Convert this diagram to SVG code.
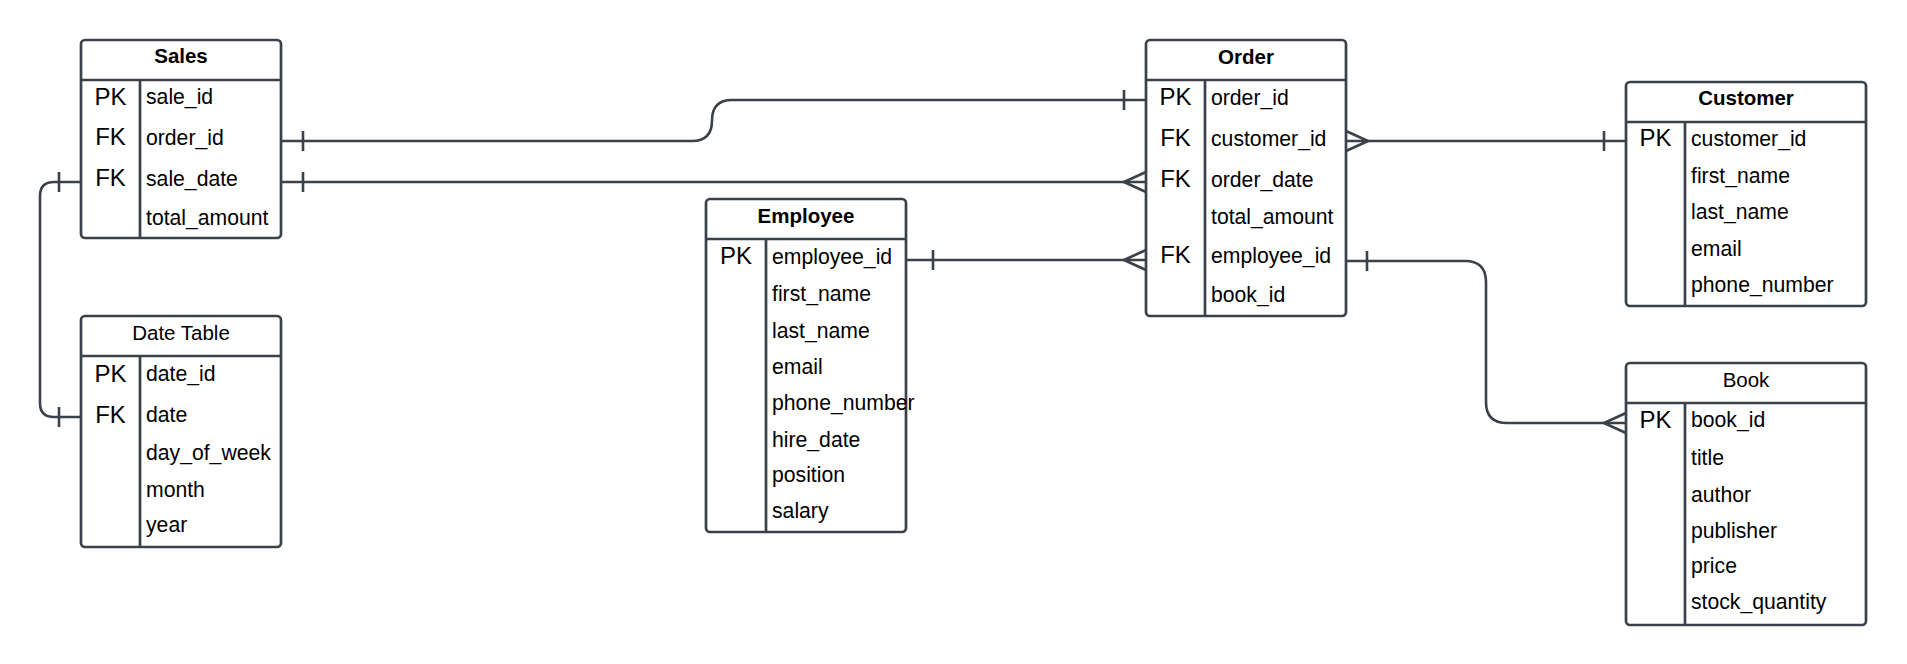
<svg xmlns="http://www.w3.org/2000/svg" width="1907" height="664" viewBox="0 0 1907 664">
<style>
.box{fill:#fff;stroke:#3a414a;stroke-width:2.7}
.ln{fill:none;stroke:#3a414a;stroke-width:2.7}
.cn{fill:none;stroke:#3a414a;stroke-width:2.6;stroke-linejoin:round}
.h{font-family:"Liberation Sans",Arial,sans-serif;font-size:20.5px;font-weight:bold;fill:#000;text-anchor:middle}
.hr{font-family:"Liberation Sans",Arial,sans-serif;font-size:20.5px;fill:#000;text-anchor:middle}
.k{font-family:"Liberation Sans",Arial,sans-serif;font-size:24px;fill:#000;text-anchor:middle}
.f{font-family:"Liberation Sans",Arial,sans-serif;font-size:21.2px;fill:#000}
</style>
<rect width="1907" height="664" fill="#fff"/>
<g id="connectors">
<path class="cn" d="M281 141 H692 Q712 141 712 120.5 Q712 100 732 100 H1146"/>
<path class="cn" d="M303 131 V151 M1124 90 V110"/>
<path class="cn" d="M281 182 H1146"/>
<path class="cn" d="M303 172 V192 M1146 172 L1124 182 L1146 192"/>
<path class="cn" d="M906 260 H1146"/>
<path class="cn" d="M933 250 V270 M1146 250 L1124 260 L1146 270"/>
<path class="cn" d="M1346 141 H1626"/>
<path class="cn" d="M1346 131 L1368 141 L1346 151 M1604 131 V151"/>
<path class="cn" d="M1346 261 H1465 Q1486 261 1486 282 V402 Q1486 423 1507 423 H1626"/>
<path class="cn" d="M1367 251 V271 M1626 413 L1604 423 L1626 433"/>
<path class="cn" d="M81 182 H54 Q40 182 40 196 V403 Q40 417 54 417 H81"/>
<path class="cn" d="M59 172 V192 M59 407 V427"/>
</g>
<g id="sales">
<rect class="box" x="81" y="40" width="200" height="198" rx="4"/>
<path class="ln" d="M81 80 H281 M140 80 V238"/>
<text class="h" x="181" y="63">Sales</text>
<text class="k" x="110.5" y="105">PK</text>
<text class="k" x="110.5" y="145">FK</text>
<text class="k" x="110.5" y="186">FK</text>
<text class="f" x="146" y="104">sale_id</text>
<text class="f" x="146" y="145">order_id</text>
<text class="f" x="146" y="186">sale_date</text>
<text class="f" x="146" y="225">total_amount</text>
</g>
<g id="date-table">
<rect class="box" x="81" y="316" width="200" height="231" rx="4"/>
<path class="ln" d="M81 356 H281 M140 356 V547"/>
<text class="hr" x="181" y="340">Date Table</text>
<text class="k" x="110.5" y="382">PK</text>
<text class="k" x="110.5" y="423">FK</text>
<text class="f" x="146" y="381">date_id</text>
<text class="f" x="146" y="422">date</text>
<text class="f" x="146" y="460">day_of_week</text>
<text class="f" x="146" y="497">month</text>
<text class="f" x="146" y="532">year</text>
</g>
<g id="employee">
<rect class="box" x="706" y="199" width="200" height="333" rx="4"/>
<path class="ln" d="M706 239 H906 M766 239 V532"/>
<text class="h" x="806" y="223">Employee</text>
<text class="k" x="736" y="264">PK</text>
<text class="f" x="772" y="264">employee_id</text>
<text class="f" x="772" y="301">first_name</text>
<text class="f" x="772" y="338">last_name</text>
<text class="f" x="772" y="374">email</text>
<text class="f" x="772" y="410">phone_number</text>
<text class="f" x="772" y="447">hire_date</text>
<text class="f" x="772" y="482">position</text>
<text class="f" x="772" y="518">salary</text>
</g>
<g id="order">
<rect class="box" x="1146" y="40" width="200" height="276" rx="4"/>
<path class="ln" d="M1146 80 H1346 M1205 80 V316"/>
<text class="h" x="1246" y="64">Order</text>
<text class="k" x="1175.5" y="105">PK</text>
<text class="k" x="1175.5" y="146">FK</text>
<text class="k" x="1175.5" y="187">FK</text>
<text class="k" x="1175.5" y="263">FK</text>
<text class="f" x="1211" y="105">order_id</text>
<text class="f" x="1211" y="146">customer_id</text>
<text class="f" x="1211" y="187">order_date</text>
<text class="f" x="1211" y="224">total_amount</text>
<text class="f" x="1211" y="263">employee_id</text>
<text class="f" x="1211" y="302">book_id</text>
</g>
<g id="customer">
<rect class="box" x="1626" y="82" width="240" height="224" rx="4"/>
<path class="ln" d="M1626 122 H1866 M1685 122 V306"/>
<text class="h" x="1746" y="105">Customer</text>
<text class="k" x="1655.5" y="146">PK</text>
<text class="f" x="1691" y="146">customer_id</text>
<text class="f" x="1691" y="183">first_name</text>
<text class="f" x="1691" y="219">last_name</text>
<text class="f" x="1691" y="256">email</text>
<text class="f" x="1691" y="292">phone_number</text>
</g>
<g id="book">
<rect class="box" x="1626" y="363" width="240" height="262" rx="4"/>
<path class="ln" d="M1626 403 H1866 M1685 403 V625"/>
<text class="hr" x="1746" y="387">Book</text>
<text class="k" x="1655.5" y="428">PK</text>
<text class="f" x="1691" y="427">book_id</text>
<text class="f" x="1691" y="465">title</text>
<text class="f" x="1691" y="502">author</text>
<text class="f" x="1691" y="538">publisher</text>
<text class="f" x="1691" y="573">price</text>
<text class="f" x="1691" y="609">stock_quantity</text>
</g>
</svg>
